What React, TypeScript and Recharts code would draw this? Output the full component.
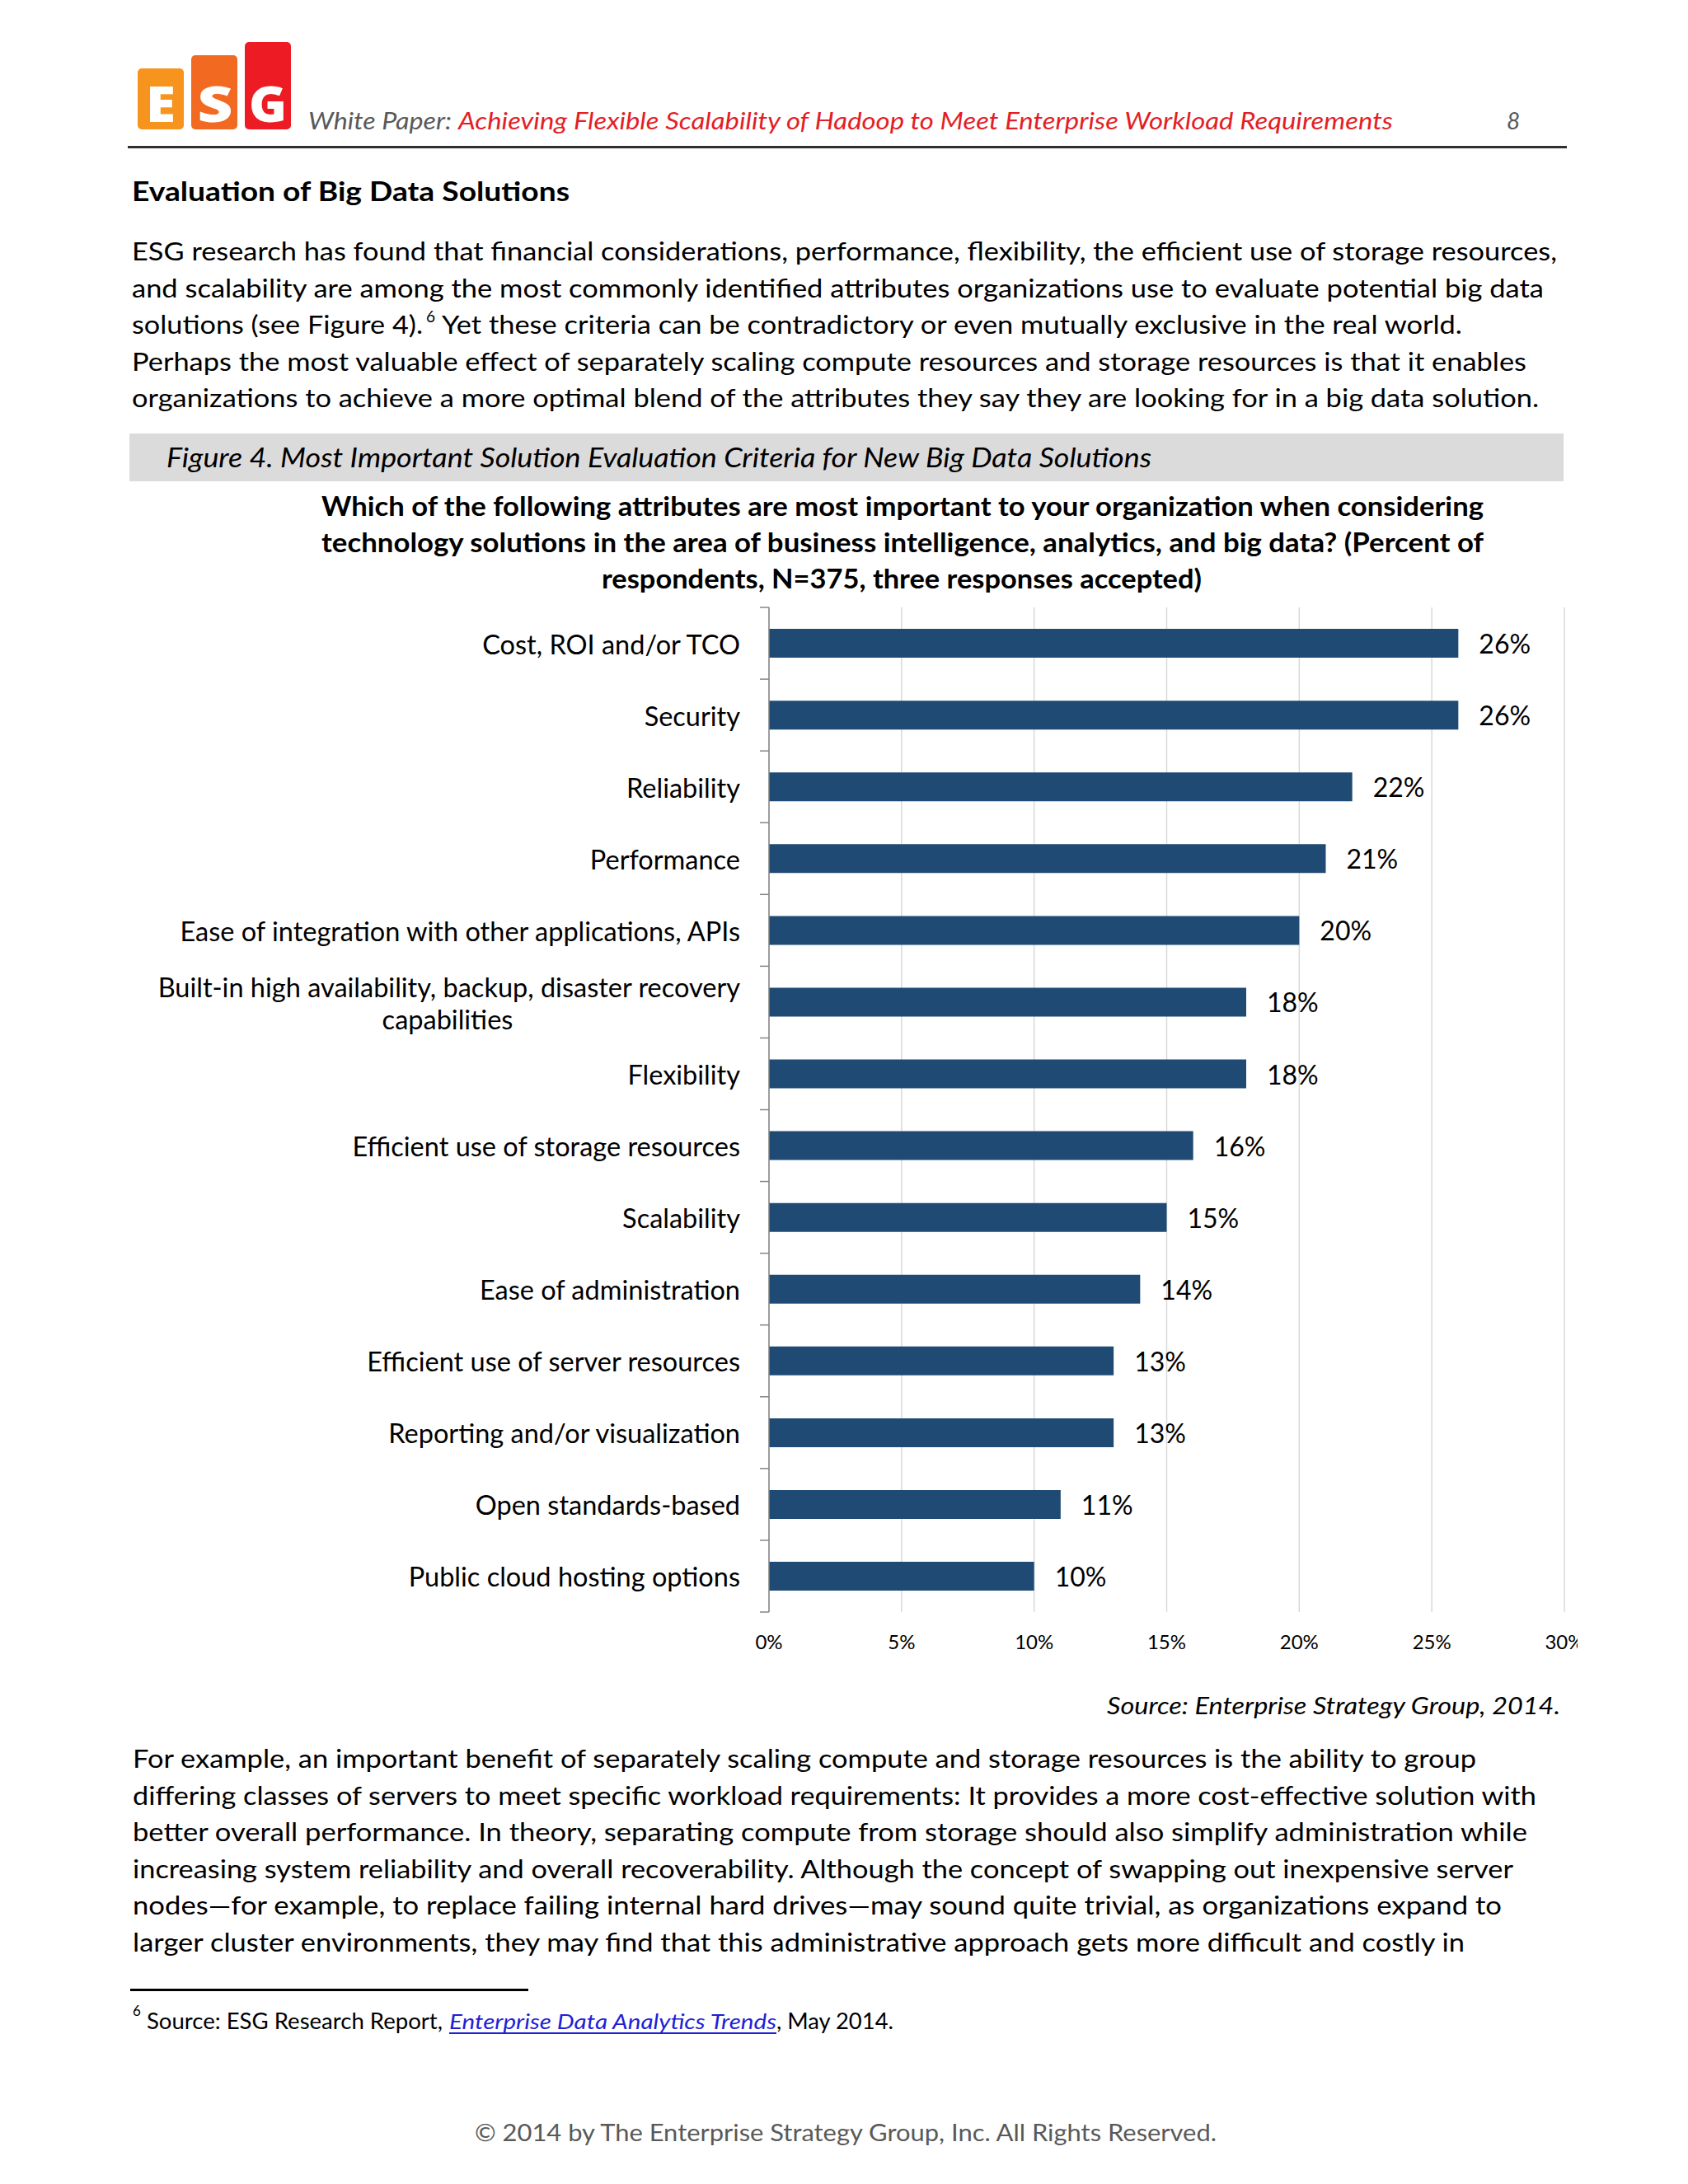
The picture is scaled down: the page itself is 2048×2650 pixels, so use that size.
import React from 'react';
import { BarChart, Bar, XAxis, YAxis, CartesianGrid, LabelList } from 'recharts';

// ---------- data ----------
const categories: string[] = [
  'Cost, ROI and/or TCO',
  'Security',
  'Reliability',
  'Performance',
  'Ease of integration with other applications, APIs',
  'Built-in high availability, backup, disaster recovery\ncapabilities',
  'Flexibility',
  'Efficient use of storage resources',
  'Scalability',
  'Ease of administration',
  'Efficient use of server resources',
  'Reporting and/or visualization',
  'Open standards-based',
  'Public cloud hosting options',
];
const percentValues: number[] = [26, 26, 22, 21, 20, 18, 18, 16, 15, 14, 13, 13, 11, 10];
const xTicks: number[] = [0, 5, 10, 15, 20, 25, 30];

const chartTitleLines: string[] = [
  'Which of the following attributes are most important to your organization when considering',
  'technology solutions in the area of business intelligence, analytics, and big data? (Percent of',
  'respondents, N=375, three responses accepted)',
];

const chartData = categories.map((c, i) => ({ category: c, value: percentValues[i] }));

// ---------- styling constants ----------
const FONT = 'Lato, "Open Sans", "Noto Sans", sans-serif';
const BAR_COLOR = '#1f4a73';
const AXIS_COLOR = '#868686';
const GRID_COLOR = '#d9d9d9';
const LABEL_GAP = 35;
const TICK_LEN = 11;
const STEP_FALLBACK = 1219 / 14;
const WRAP_HALF = 355;
const CAT_FONT = 32.5;
const VALUE_FONT = 32;

function CategoryTick(props: any) {
  const { x, y, payload, index } = props;
  const half = payload && payload.offset ? payload.offset : STEP_FALLBACK / 2;
  const lines = String(payload.value).split('\n');
  const axisX = x + LABEL_GAP;
  const isLast = index === categories.length - 1;
  const common = { fontSize: CAT_FONT, fill: '#000', fontFamily: FONT } as any;
  return (
    <g>
      <line x1={axisX - TICK_LEN} x2={axisX} y1={y - half} y2={y - half} stroke={AXIS_COLOR} strokeWidth={1.5} />
      {isLast && (
        <line x1={axisX - TICK_LEN} x2={axisX} y1={y + half} y2={y + half} stroke={AXIS_COLOR} strokeWidth={1.5} />
      )}
      {lines.length === 1 ? (
        <text x={x} y={y + 13} textAnchor="end" {...common}>
          {lines[0]}
        </text>
      ) : (
        <g>
          <text x={x} y={y - 6} textAnchor="end" {...common}>
            {lines[0]}
          </text>
          <text x={x - WRAP_HALF} y={y + 33} textAnchor="middle" {...common}>
            {lines[1]}
          </text>
        </g>
      )}
    </g>
  );
}

function ValueLabel(props: any) {
  const { x, y, width, height, value } = props;
  return (
    <text
      x={Number(x) + Number(width) + 25}
      y={Number(y) + Number(height) / 2 + 12.5}
      fontSize={VALUE_FONT}
      fill="#000"
      fontFamily={FONT}
      textAnchor="start"
    >
      {`${value}%`}
    </text>
  );
}

type TLProps = {
  x: number;
  y: number;
  w?: number;
  size: number;
  weight?: number | string;
  italic?: boolean;
  fill?: string;
  anchor?: 'start' | 'middle' | 'end';
  children: React.ReactNode;
};

function TL({ x, y, w, size, weight, italic, fill, anchor, children }: TLProps) {
  const extra: any = {};
  if (w) {
    extra.textLength = w;
    extra.lengthAdjust = 'spacingAndGlyphs';
  }
  return (
    <text
      x={x}
      y={y}
      fontSize={size}
      fontFamily={FONT}
      fontWeight={weight || 400}
      fontStyle={italic ? 'italic' : 'normal'}
      fill={fill || '#000'}
      textAnchor={anchor || 'start'}
      {...extra}
    >
      {children}
    </text>
  );
}

const topParagraph: { text: string; w: number }[] = [
  { text: 'ESG research has found that financial considerations, performance, flexibility, the efficient use of storage resources,', w: 1729 },
  { text: 'and scalability are among the most commonly identified attributes organizations use to evaluate potential big data', w: 1713 },
  { text: '', w: 0 },
  { text: 'Perhaps the most valuable effect of separately scaling compute resources and storage resources is that it enables', w: 1692 },
  { text: 'organizations to achieve a more optimal blend of the attributes they say they are looking for in a big data solution.', w: 1707 },
];

const bottomParagraph: { text: string; w: number }[] = [
  { text: 'For example, an important benefit of separately scaling compute and storage resources is the ability to group', w: 1630 },
  { text: 'differing classes of servers to meet specific workload requirements: It provides a more cost-effective solution with', w: 1703 },
  { text: 'better overall performance. In theory, separating compute from storage should also simplify administration while', w: 1692 },
  { text: 'increasing system reliability and overall recoverability. Although the concept of swapping out inexpensive server', w: 1675 },
  { text: 'nodes\u2014for example, to replace failing internal hard drives\u2014may sound quite trivial, as organizations expand to', w: 1661 },
  { text: 'larger cluster environments, they may find that this administrative approach gets more difficult and costly in', w: 1616 },
];

function PageBackground() {
  const topBase = [316, 360.6, 405.2, 449.8, 494.4];
  const botBase = [2145, 2189.6, 2234.2, 2278.8, 2323.4, 2368];
  return (
    <svg width={2048} height={2650} style={{ position: 'absolute', left: 0, top: 0 }}>
      <rect x={0} y={0} width={2048} height={2650} fill="#ffffff" />
      {/* logo */}
      <rect x={167} y={83} width={56} height={74} rx={5} fill="#f7941d" />
      <rect x={232} y={67} width={56} height={90} rx={5} fill="#f26a21" />
      <rect x={297} y={51} width={56} height={106} rx={5} fill="#ed1c24" />
      <text x={195} y={148} fontSize={60} fontWeight={800} fontFamily='"Open Sans", sans-serif' fill="#fff" textAnchor="middle" textLength={36} lengthAdjust="spacingAndGlyphs">E</text>
      <text x={261} y={148} fontSize={60} fontWeight={800} fontFamily='"Open Sans", sans-serif' fill="#fff" textAnchor="middle" textLength={43} lengthAdjust="spacingAndGlyphs">S</text>
      <text x={325} y={148} fontSize={60} fontWeight={800} fontFamily='"Open Sans", sans-serif' fill="#fff" textAnchor="middle" textLength={46} lengthAdjust="spacingAndGlyphs">G</text>
      {/* header */}
      <TL x={374} y={157} w={174} size={28} italic fill="#595959">White Paper:</TL>
      <TL x={556} y={157} w={1134} size={28} italic fill="#e31e26">Achieving Flexible Scalability of Hadoop to Meet Enterprise Workload Requirements</TL>
      <TL x={1828} y={157} size={28} italic fill="#595959">8</TL>
      <rect x={155} y={177} width={1746} height={3} fill="#303030" />
      {/* heading */}
      <TL x={160} y={244} w={531} size={32} weight={700}>Evaluation of Big Data Solutions</TL>
      {topParagraph.map((l, i) =>
        l.text ? (
          <TL key={i} x={160} y={topBase[i]} w={l.w} size={31}>{l.text}</TL>
        ) : null
      )}
      <TL x={160} y={topBase[2]} w={353} size={31}>solutions (see Figure 4).</TL>
      <TL x={517} y={topBase[2] - 14} size={19}>6</TL>
      <TL x={536} y={topBase[2]} w={1238} size={31}>Yet these criteria can be contradictory or even mutually exclusive in the real world.</TL>
      {/* caption */}
      <rect x={157} y={526} width={1740} height={58} fill="#dcdbdc" />
      <TL x={202} y={567} w={1195} size={32} italic>Figure 4. Most Important Solution Evaluation Criteria for New Big Data Solutions</TL>
      {/* chart title */}
      <TL x={1095} y={626} w={1410} size={33} weight={700} anchor="middle">{chartTitleLines[0]}</TL>
      <TL x={1095} y={670} w={1410} size={33} weight={700} anchor="middle">{chartTitleLines[1]}</TL>
      <TL x={1094} y={714} w={728} size={33} weight={700} anchor="middle">{chartTitleLines[2]}</TL>
      {/* source */}
      <TL x={1343} y={2080} w={550} size={29} italic>Source: Enterprise Strategy Group, 2014.</TL>
      {/* bottom paragraph */}
      {bottomParagraph.map((l, i) => (
        <TL key={i} x={161} y={botBase[i]} w={l.w} size={31}>{l.text}</TL>
      ))}
      {/* footnote */}
      <rect x={158} y={2413} width={483} height={3} fill="#000" />
      <TL x={161} y={2446} size={17}>6</TL>
      <TL x={178} y={2462} w={359} size={26}>Source: ESG Research Report,</TL>
      <TL x={545} y={2462} w={397} size={26} italic fill="#1f1fd6">Enterprise Data Analytics Trends</TL>
      <rect x={545} y={2466} width={397} height={2} fill="#1f1fd6" />
      <TL x={942} y={2462} w={142} size={26}>, May 2014.</TL>
      {/* copyright */}
      <TL x={576} y={2598} w={900} size={28} fill="#595959">© 2014 by The Enterprise Strategy Group, Inc. All Rights Reserved.</TL>
    </svg>
  );
}

export default function App() {
  return (
    <div style={{ position: 'absolute', left: 0, top: 0, width: 2048, height: 2650, background: '#fff', fontFamily: FONT }}>
      <PageBackground />
      <div style={{ position: 'absolute', left: 150, top: 720 }}>
        <BarChart
          width={1764}
          height={1310}
          data={chartData}
          layout="vertical"
          margin={{ top: 17, right: 16, bottom: 0, left: 0 }}
          barCategoryGap="30%"
        >
          <CartesianGrid horizontal={false} vertical={true} stroke={GRID_COLOR} strokeWidth={1.5} />
          <XAxis
            type="number"
            domain={[0, 30]}
            ticks={xTicks}
            tickFormatter={(v: number) => `${v}%`}
            axisLine={false}
            tickLine={false}
            tickSize={20}
            tickMargin={8}
            height={74}
            interval={0}
            tick={{ fontSize: 24, fill: '#000', fontFamily: FONT }}
          />
          <YAxis
            type="category"
            dataKey="category"
            width={783}
            axisLine={{ stroke: AXIS_COLOR, strokeWidth: 1.5 }}
            tickLine={false}
            tickSize={0}
            tickMargin={LABEL_GAP}
            interval={0}
            tick={<CategoryTick />}
          />
          <Bar dataKey="value" fill={BAR_COLOR} isAnimationActive={false}>
            <LabelList dataKey="value" content={<ValueLabel />} />
          </Bar>
        </BarChart>
      </div>
    </div>
  );
}
